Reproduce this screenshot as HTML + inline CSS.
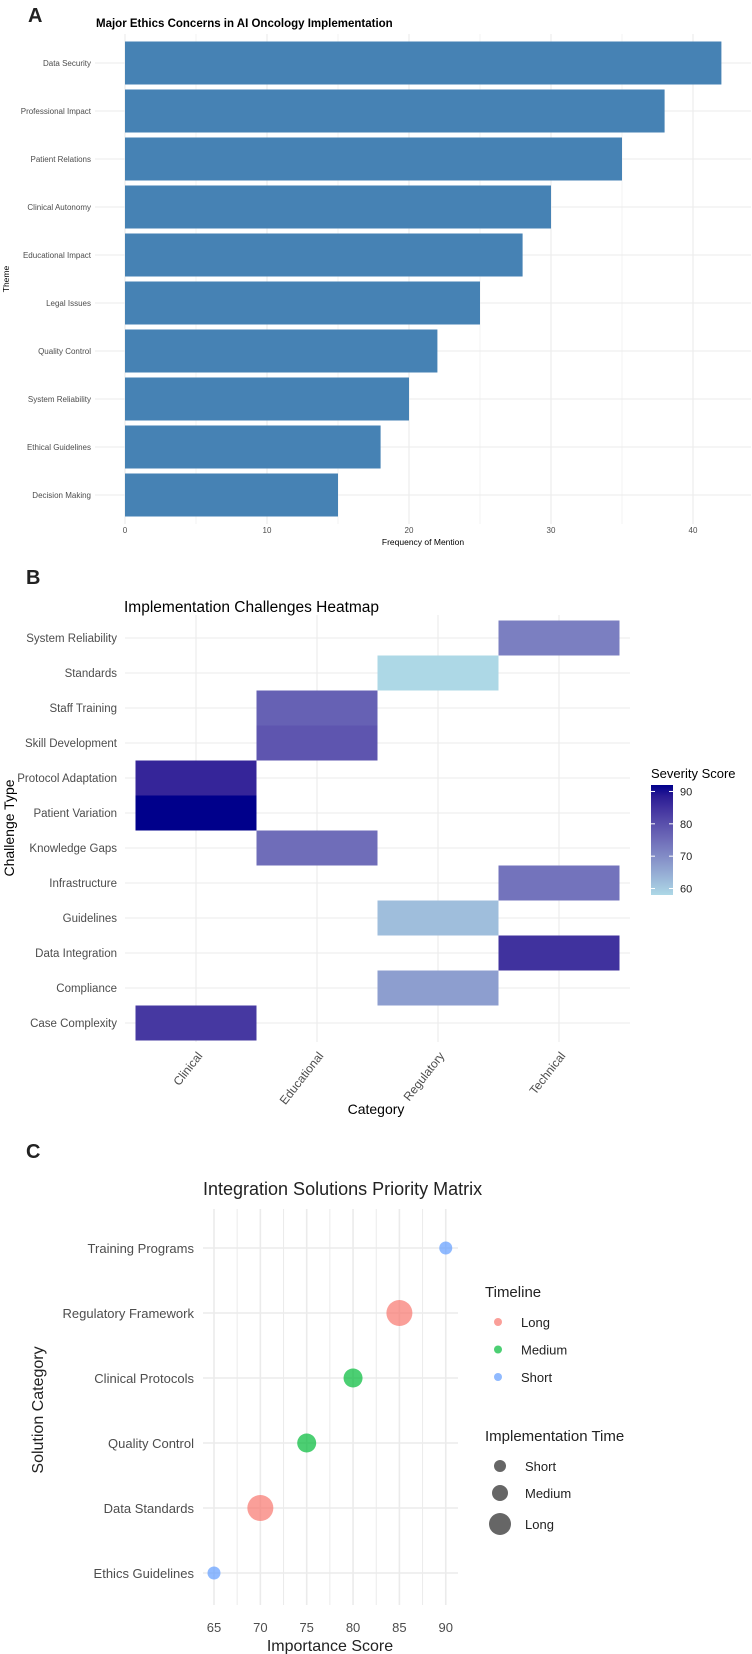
<!DOCTYPE html>
<html><head><meta charset="utf-8"><style>
html,body{margin:0;padding:0;background:#fff}
svg{display:block;font-family:"Liberation Sans",Arial,sans-serif}
</style></head><body>
<svg id="fig" width="752" height="1654" viewBox="0 0 752 1654" xmlns="http://www.w3.org/2000/svg">
<g id="pa"></g>
<g id="pb"></g>
<g id="pc"></g>
</svg>
<script>
// Panel A data
const themes = ["Data Security","Professional Impact","Patient Relations","Clinical Autonomy","Educational Impact","Legal Issues","Quality Control","System Reliability","Ethical Guidelines","Decision Making"];
const mentions = [42,38,35,30,28,25,22,20,18,15];
const aTicks = [0,10,20,30,40];
// Panel B data
const hmCategories = ["Clinical","Educational","Regulatory","Technical"];
const hmRows = ["System Reliability","Standards","Staff Training","Skill Development","Protocol Adaptation","Patient Variation","Knowledge Gaps","Infrastructure","Guidelines","Data Integration","Compliance","Case Complexity"];
const hmRowCategory = ["Technical","Regulatory","Educational","Educational","Clinical","Clinical","Educational","Technical","Regulatory","Technical","Regulatory","Clinical"];
const hmSeverity = [72,58,77,79,87,92,75,74,62,85,67,84];
const legendTicks = [60,70,80,90];
// Panel C data
const solutions = ["Training Programs","Regulatory Framework","Clinical Protocols","Quality Control","Data Standards","Ethics Guidelines"];
const importance = [90,85,80,75,70,65];
const timeline = ["Short","Long","Medium","Medium","Long","Short"];
const cTicks = [65,70,75,80,85,90];
const timelineLevels = ["Long","Medium","Short"];
const implLevels = ["Short","Medium","Long"];

const NS="http://www.w3.org/2000/svg";
function mk(parent,tag,attrs,text){const e=document.createElementNS(NS,tag);for(const k in attrs)e.setAttribute(k,attrs[k]);if(text!==undefined)e.textContent=text;parent.appendChild(e);return e;}

// Lab color helpers
function s2l(c){c/=255;return c<=0.04045?c/12.92:Math.pow((c+0.055)/1.055,2.4);}
function l2s(c){c=c<=0.0031308?12.92*c:1.055*Math.pow(c,1/2.4)-0.055;return Math.max(0,Math.min(255,Math.round(c*255)));}
function rgb2lab(r){const R=s2l(r[0]),G=s2l(r[1]),B=s2l(r[2]);
 let X=(0.4124*R+0.3576*G+0.1805*B)/0.95047,Y=(0.2126*R+0.7152*G+0.0722*B),Z=(0.0193*R+0.1192*G+0.9505*B)/1.08883;
 const f=t=>t>0.008856?Math.cbrt(t):7.787*t+16/116;X=f(X);Y=f(Y);Z=f(Z);return [116*Y-16,500*(X-Y),200*(Y-Z)];}
function lab2rgb(l){let Y=(l[0]+16)/116,X=l[1]/500+Y,Z=Y-l[2]/200;
 const fi=t=>t*t*t>0.008856?t*t*t:(t-16/116)/7.787;X=fi(X)*0.95047;Y=fi(Y);Z=fi(Z)*1.08883;
 const R=3.2406*X-1.5372*Y-0.4986*Z,G=-0.9689*X+1.8758*Y+0.0415*Z,B=0.0557*X-0.2040*Y+1.0570*Z;return [l2s(R),l2s(G),l2s(B)];}

// ---------- Panel A ----------
(function(){
 const g=document.getElementById('pa');
 const x=v=>125+v*14.2, L=95, R=751, T=34, B=524, step=48;
 const y=i=>63+i*step;
 let t=mk(g,'text',{x:28,y:22,'font-size':20,'font-weight':'bold',fill:'#222'},'A');
 
 t=mk(g,'text',{x:96,y:27,'font-size':11.5,'font-weight':'bold',fill:'#000'},'Major Ethics Concerns in AI Oncology Implementation');
 
 for(let v=0;v<=45;v+=5){const xx=x(v);if(xx>R)break;const l=mk(g,'line',{x1:xx,x2:xx,y1:T,y2:B,stroke:'#ebebeb','stroke-width':v%10?0.6:1.1});}
 themes.forEach((th,i)=>{const l=mk(g,'line',{x1:L,x2:R,y1:y(i),y2:y(i),stroke:'#ebebeb','stroke-width':1.1});});
 themes.forEach((th,i)=>{
  const r=mk(g,'rect',{x:x(0),y:y(i)-21.5,width:x(mentions[i])-x(0),height:43,fill:'#4682b4'});
  
  const tl=mk(g,'text',{x:91,y:y(i)+3,'font-size':8,'text-anchor':'end',fill:'#4d4d4d'},th);
  
 });
 aTicks.forEach(v=>{const tl=mk(g,'text',{x:x(v),y:533,'font-size':8,'text-anchor':'middle',fill:'#4d4d4d'},v);});
 t=mk(g,'text',{x:423,y:545,'font-size':8.5,'text-anchor':'middle',fill:'#000'},'Frequency of Mention');
 
 t=mk(g,'text',{x:0,y:0,'font-size':8.5,'text-anchor':'middle',fill:'#000',transform:'translate(9,279) rotate(-90)'},'Theme');
 
})();

// ---------- Panel B ----------
(function(){
 const g=document.getElementById('pb');
 const cw=121, rh=35, cx=i=>196+i*cw, ry=i=>638+i*rh;
 const L=125, R=630, T=615, B=1042;
 const vmin=58, vmax=92;
 const lo=rgb2lab([173,216,230]), hi=rgb2lab([0,0,139]);
 function col(v){const f=(v-vmin)/(vmax-vmin);const c=lab2rgb(lo.map((a,k)=>a+(hi[k]-a)*f));return 'rgb('+c.join(',')+')';}
 let t=mk(g,'text',{x:26,y:584,'font-size':20,'font-weight':'bold',fill:'#222'},'B');
 
 t=mk(g,'text',{x:124,y:612,'font-size':15.5,fill:'#000'},'Implementation Challenges Heatmap');
 
 hmCategories.forEach((c,i)=>{const l=mk(g,'line',{x1:cx(i),x2:cx(i),y1:T,y2:B,stroke:'#ebebeb','stroke-width':1.1});});
 hmRows.forEach((r,i)=>{const l=mk(g,'line',{x1:L,x2:R,y1:ry(i),y2:ry(i),stroke:'#ebebeb','stroke-width':1.1});});
 hmRows.forEach((r,i)=>{
  const ci=hmCategories.indexOf(hmRowCategory[i]);
  const rc=mk(g,'rect',{x:cx(ci)-cw/2,y:ry(i)-rh/2,width:cw,height:rh,fill:col(hmSeverity[i])});
  
  const tl=mk(g,'text',{x:117,y:ry(i)+4,'font-size':11.5,'text-anchor':'end',fill:'#4d4d4d'},r);
  
 });
 hmCategories.forEach((c,i)=>{const tl=mk(g,'text',{x:0,y:0,'font-size':12,'text-anchor':'end',fill:'#4d4d4d',transform:'translate('+(cx(i)+7)+',1056) rotate(-52)'},c);});
 t=mk(g,'text',{x:376,y:1114,'font-size':14,'text-anchor':'middle',fill:'#000'},'Category');
 
 t=mk(g,'text',{x:0,y:0,'font-size':14,'text-anchor':'middle',fill:'#000',transform:'translate(14,828) rotate(-90)'},'Challenge Type');
 
 // legend
 t=mk(g,'text',{x:651,y:778,'font-size':13,fill:'#000'},'Severity Score');
 
 const defs=mk(g,'defs',{});const lg=mk(defs,'linearGradient',{id:'sevgrad',x1:0,y1:1,x2:0,y2:0});
 for(let k=0;k<=10;k++){mk(lg,'stop',{offset:k/10,'stop-color':col(vmin+(vmax-vmin)*k/10)});}
 const ly=v=>895-(v-vmin)/(vmax-vmin)*110;
 const bar=mk(g,'rect',{x:651,y:785,width:22,height:110,fill:'url(#sevgrad)'});
 
 legendTicks.forEach(v=>{
  mk(g,'line',{x1:651,x2:655,y1:ly(v),y2:ly(v),stroke:'#fff','stroke-width':1});
  mk(g,'line',{x1:669,x2:673,y1:ly(v),y2:ly(v),stroke:'#fff','stroke-width':1});
  const tl=mk(g,'text',{x:680,y:ly(v)+4,'font-size':11,fill:'#222'},v);
  
 });
})();

// ---------- Panel C ----------
(function(){
 const g=document.getElementById('pc');
 const x=v=>214+(v-65)*9.27, ry=i=>1248+i*65;
 const L=203, R=458, T=1209, B=1605;
 const colors={Long:'#F8766D',Medium:'#00BA38',Short:'#619CFF'};
 const sizes={Short:6.5,Medium:9.5,Long:13};
 let t=mk(g,'text',{x:26,y:1158,'font-size':20,'font-weight':'bold',fill:'#222'},'C');
 
 t=mk(g,'text',{x:203,y:1195,'font-size':18,fill:'#222'},'Integration Solutions Priority Matrix');
 
 for(let v=62.5;v<=92.5;v+=2.5){const xx=x(v);if(xx<L||xx>R)continue;const l=mk(g,'line',{x1:xx,x2:xx,y1:T,y2:B,stroke:'#ebebeb','stroke-width':v%5?1:1.6});}
 solutions.forEach((s,i)=>{const l=mk(g,'line',{x1:L,x2:R,y1:ry(i),y2:ry(i),stroke:'#ebebeb','stroke-width':1.6});});
 solutions.forEach((s,i)=>{
  const c=mk(g,'circle',{cx:x(importance[i]),cy:ry(i),r:sizes[timeline[i]],fill:colors[timeline[i]],'fill-opacity':0.7});
  
  const tl=mk(g,'text',{x:194,y:ry(i)+5,'font-size':13,'text-anchor':'end',fill:'#4d4d4d'},s);
  
 });
 cTicks.forEach(v=>{const tl=mk(g,'text',{x:x(v),y:1632,'font-size':13,'text-anchor':'middle',fill:'#4d4d4d'},v);});
 t=mk(g,'text',{x:330,y:1651,'font-size':16,'text-anchor':'middle',fill:'#222'},'Importance Score');
 
 t=mk(g,'text',{x:0,y:0,'font-size':16,'text-anchor':'middle',fill:'#222',transform:'translate(43,1410) rotate(-90)'},'Solution Category');
 
 // legends
 t=mk(g,'text',{x:485,y:1297,'font-size':15,fill:'#222'},'Timeline');
 
 timelineLevels.forEach((lv,i)=>{
  const yy=1322+i*27.5;
  const c=mk(g,'circle',{cx:498,cy:yy,r:4,fill:colors[lv],'fill-opacity':0.7});
  
  const tl=mk(g,'text',{x:521,y:yy+5,'font-size':13,fill:'#222'},lv);
  
 });
 t=mk(g,'text',{x:485,y:1441,'font-size':15,fill:'#222'},'Implementation Time');
 
 const lsz={Short:6,Medium:8,Long:11};
 implLevels.forEach((lv,i)=>{
  const yy=[1466,1493,1524][i];
  const c=mk(g,'circle',{cx:500,cy:yy,r:lsz[lv],fill:'#333','fill-opacity':0.75});
  
  const tl=mk(g,'text',{x:525,y:yy+5,'font-size':13,fill:'#222'},lv);
  
 });
})();
</script>
</body></html>
